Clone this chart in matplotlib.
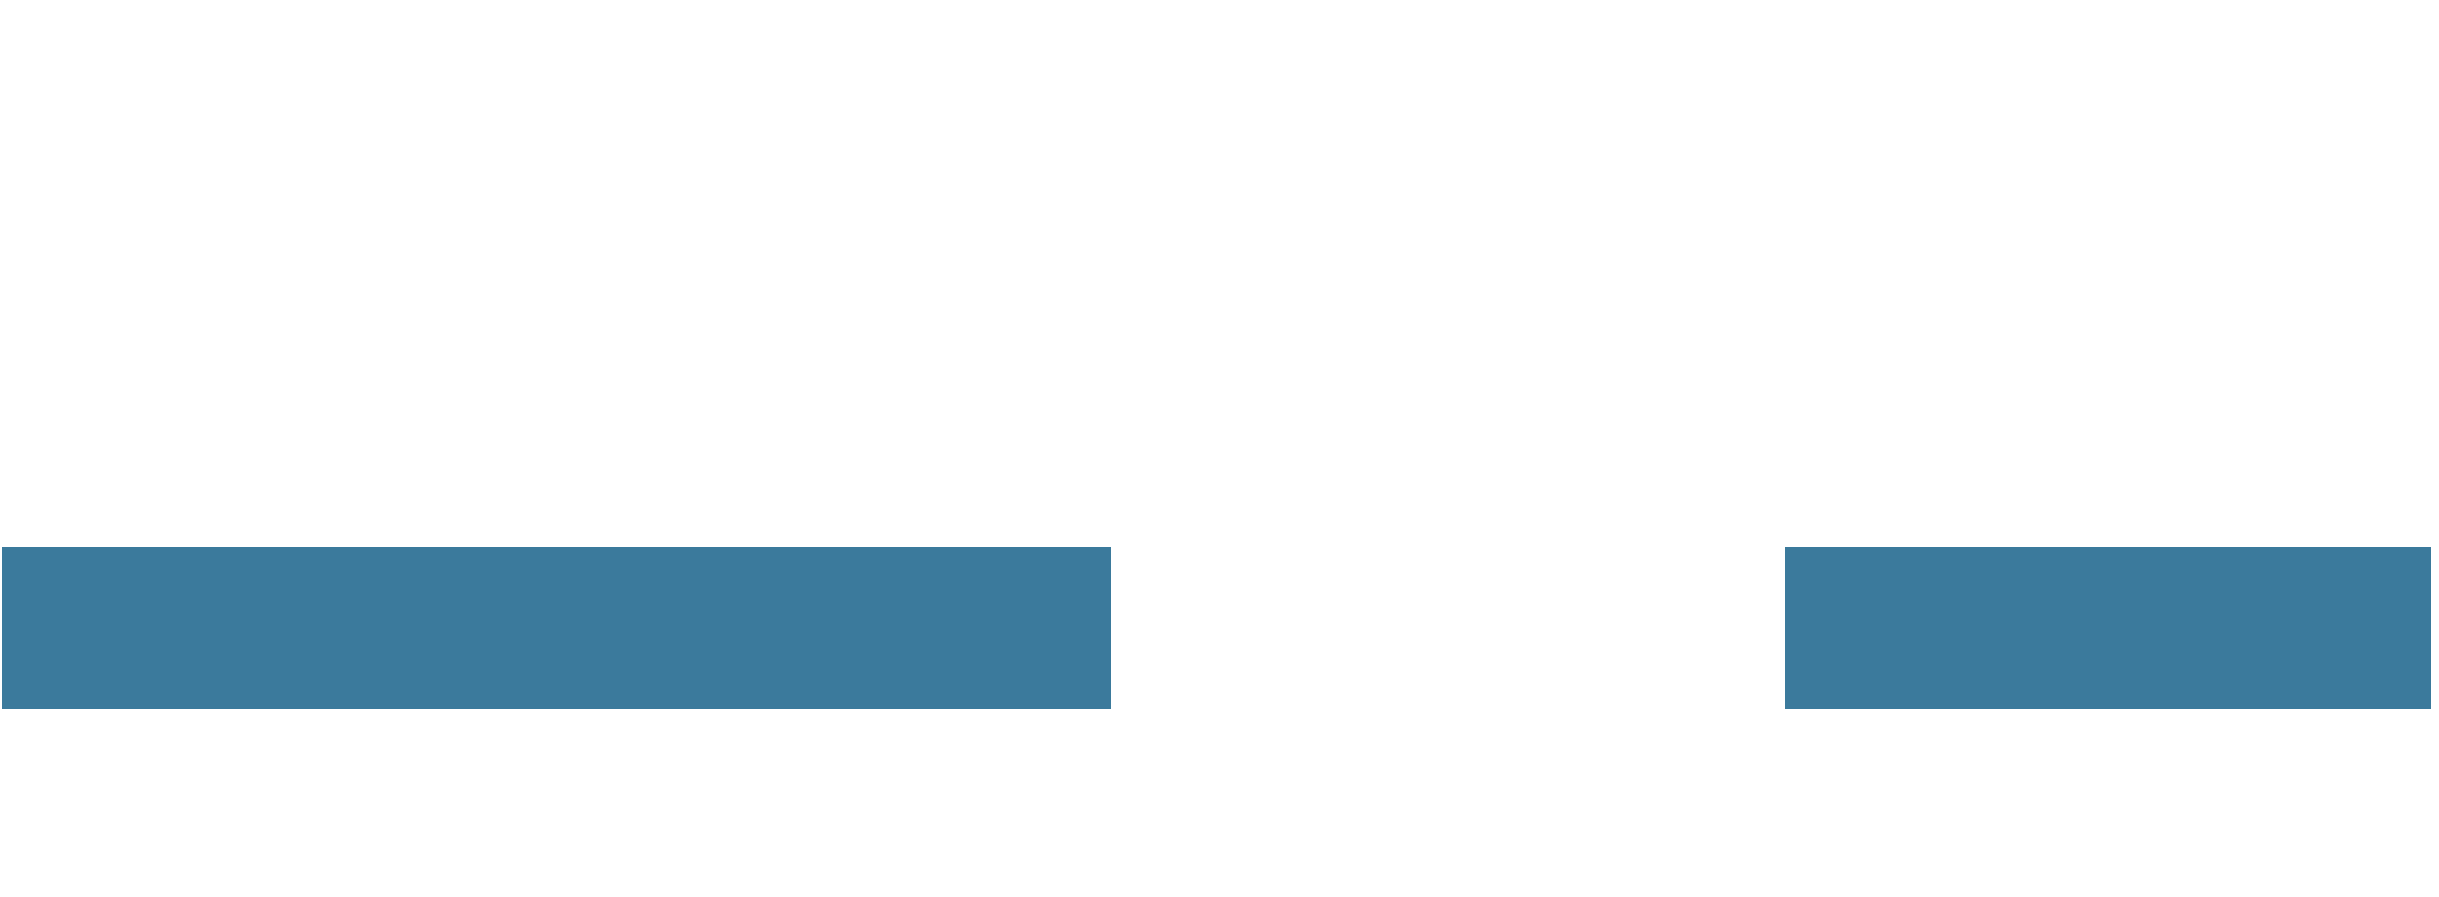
import matplotlib
matplotlib.use("Agg")
import matplotlib.pyplot as plt

# Segments (start, width) on a 0-12 scale
seg_starts = [0.0, 8.81]
seg_widths = [5.48, 3.19]
bar_y = 0.2095
bar_height = 0.181

fig = plt.figure(figsize=(24.39, 8.97), dpi=100)
ax = fig.add_axes([2 / 2439, 0, 2429 / 2439, 1])
ax.broken_barh(list(zip(seg_starts, seg_widths)), (bar_y, bar_height),
               facecolors="#3b7a9c", edgecolor="none")
ax.set_xlim(0, 12)
ax.set_ylim(0, 1)
ax.axis("off")
fig.savefig("out.png", dpi=100, facecolor="white")
